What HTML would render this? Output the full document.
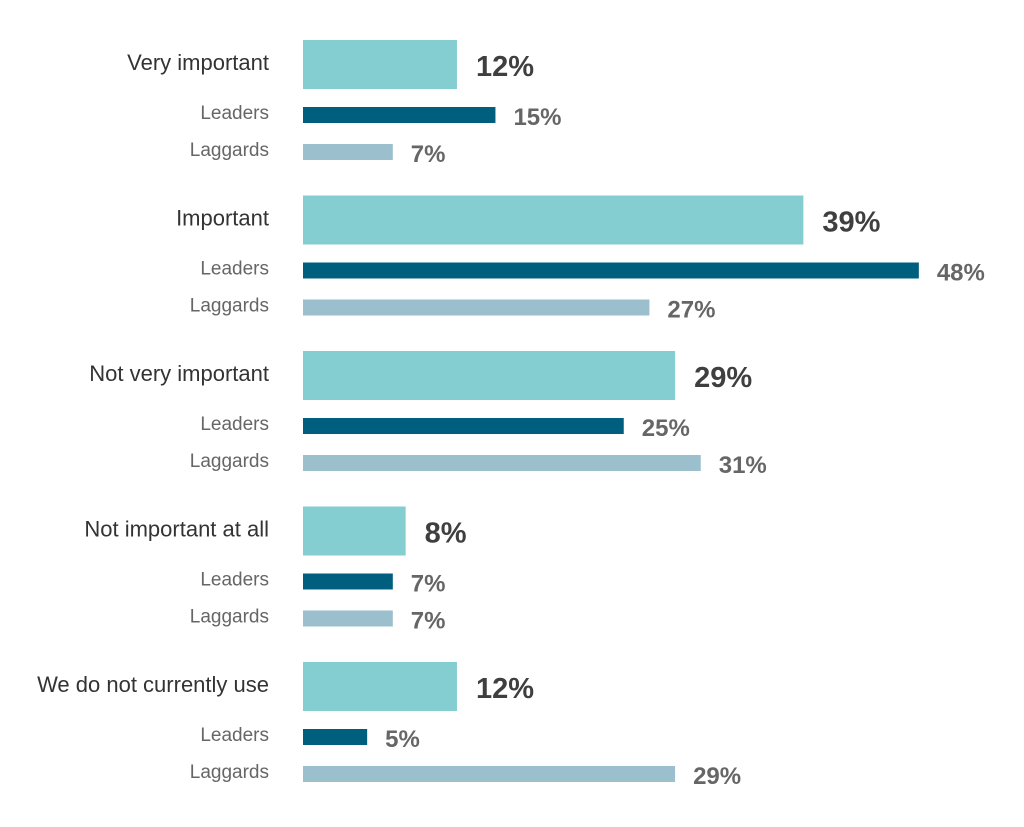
<!DOCTYPE html>
<html><head><meta charset="utf-8">
<style>
html,body{margin:0;padding:0;background:#fff;}
body{width:1024px;height:822px;overflow:hidden;font-family:"Liberation Sans",sans-serif;}
</style></head>
<body>
<svg id="chart" width="1024" height="822" xmlns="http://www.w3.org/2000/svg"></svg>
<script>
const categories = ["Very important","Important","Not very important","Not important at all","We do not currently use"];
const overallValues = [12,39,29,8,12];
const leadersValues = [15,48,25,7,5];
const laggardsValues = [7,27,31,7,29];
const seriesLabels = ["Leaders","Laggards"];

const svg = document.getElementById('chart');
const NS = "http://www.w3.org/2000/svg";
const x0 = 303, pxPer = 12.83;
function xScale(v){ return v * pxPer; }
function groupY(i){ return 40 + i * 155.5; }

function mk(tag, attrs, text){
  const e = document.createElementNS(NS, tag);
  for (const k in attrs) e.setAttribute(k, attrs[k]);
  if (text !== undefined) e.textContent = text;
  svg.appendChild(e);
  return e;
}

categories.forEach((cat, i) => {
  const gy = groupY(i);
  const cl = mk('text', {x:269, y:gy+30, 'text-anchor':'end', 'font-size':22, fill:'#333'}, cat);
  
  
  const mb = mk('rect', {x:x0, y:gy, width:xScale(overallValues[i]), height:49, fill:'#84cdd0'});
  
  
  const mv = mk('text', {x:x0+xScale(overallValues[i])+19, y:gy+36, 'font-size':29, fill:'#3f3f3f', 'font-weight':'bold'}, overallValues[i]+'%');
  
  

  const subs = [[leadersValues[i], '#005f7f', gy+67], [laggardsValues[i], '#9bbfcc', gy+104]];
  subs.forEach((s, j) => {
    const sl = mk('text', {x:269, y:s[2]+12, 'text-anchor':'end', 'font-size':19, fill:'#666'}, seriesLabels[j]);
    
    
    const b = mk('rect', {x:x0, y:s[2], width:xScale(s[0]), height:16, fill:s[1]});
    
    
    const v = mk('text', {x:x0+xScale(s[0])+18, y:s[2]+18, 'font-size':24, fill:'#666', 'font-weight':'bold'}, s[0]+'%');
    
    
  });
});
</script>
</body></html>
